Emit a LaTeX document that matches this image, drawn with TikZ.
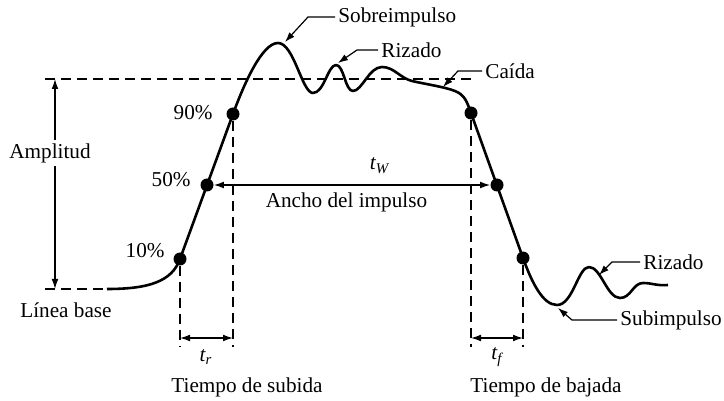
\documentclass[tikz,border=0pt]{standalone}
\usepackage{fontspec}
\setmainfont{Liberation Serif}
\usetikzlibrary{arrows.meta}
\usetikzlibrary{positioning}
\tikzset{
  pulse-line/.style={line width=1.3pt, line join=round},
  guide-line/.style={dash pattern=on 5pt off 3pt, line width=0.6pt},
  dim-path/.style={line width=0.6pt, <->},
  leader-path/.style={line width=0.6pt, ->},
  level-dot/.style={circle, fill, inner sep=0pt, minimum size=6.5pt},
  pulse-text/.style={font=\fontsize{10.6}{12}\selectfont, inner sep=1.5pt},
}
\newcommand{\tsub}[2]{{\itshape #1}\textsubscript{\itshape #2}}

\begin{document}
\begin{tikzpicture}[x=0.5pt, y=-0.5pt, >={Latex[length=5pt,width=3.4pt]}]
\useasboundingbox (0,0) rectangle (724,401);
% base line and top level
\coordinate (base-left) at (45,289);
\coordinate (base-right) at (107,289);
\coordinate (top-left) at (45,79);
\coordinate (top-right) at (472,79);
\draw[guide-line] (base-left) -- (base-right);
\draw[guide-line] (top-left) -- (top-right);
% the pulse
\draw[pulse-line] (base-right) .. controls (150,289) and (172,281) .. (180,259)
  -- (233,114) .. controls (244,84) and (262,43) .. (278,43)
  .. controls (294,43) and (302,93) .. (313,93)
  .. controls (324,93) and (328,65) .. (336,65)
  .. controls (344,65) and (345,91) .. (353,91)
  .. controls (362,91) and (369,67) .. (382,67)
  .. controls (394,67) and (400,78) .. (412,81)
  .. controls (425,84) and (445,87) .. (455,91)
  .. controls (465,95) and (467,102) .. (471,113)
  -- (523,258)
  .. controls (532,283) and (543,305) .. (557,305)
  .. controls (573,305) and (578,267) .. (589,267)
  .. controls (601,267) and (607,298) .. (620,298)
  .. controls (631,298) and (633,283) .. (643,283)
  .. controls (652,283) and (657,286) .. (668,285);
% level points
\node[level-dot] at (180,259) (rise10) {};
\node[level-dot] at (207,185) (rise50) {};
\node[level-dot] at (233,114) (rise90) {};
\node[level-dot] at (471,113) (fall90) {};
\node[level-dot] at (497,185) (fall50) {};
\node[level-dot] at (523,258) (fall10) {};
\node[pulse-text, anchor=east] at (216,113) (lbl90) {90\%};
\node[pulse-text, anchor=east] at (194,180) (lbl50) {50\%};
\node[pulse-text, anchor=east] at (168,251) (lbl10) {10\%};
% amplitude
\node[pulse-text] at (50,153) (amplitud) {Amplitud};
\coordinate (amp-top) at (55,79);
\coordinate (amp-bottom) at (55,289);
\draw[leader-path] (amp-top |- amplitud.north) -- (amp-top);
\draw[leader-path] (amp-bottom |- amplitud.south) -- (amp-bottom);
\node[pulse-text] at (66,310) (base) {Línea base};
% pulse width
\draw[dim-path] (rise50) -- (fall50)
  node[pulse-text, pos=0.6, above=4pt] (tw) {\tsub{t}{W}}
  node[pulse-text, pos=0.48, below=2pt] (ancho) {Ancho del impulso};
% rise and fall times
\coordinate (rise10-foot) at (180,347);
\coordinate (rise90-foot) at (233,347);
\coordinate (fall90-foot) at (471,347);
\coordinate (fall10-foot) at (523,347);
\draw[guide-line] (rise10) -- (rise10-foot);
\draw[guide-line] (rise90) -- (rise90-foot);
\draw[guide-line] (fall90) -- (fall90-foot);
\draw[guide-line] (fall10) -- (fall10-foot);
\coordinate (tr-left) at (180,338);
\coordinate (tr-right) at (233,338);
\coordinate (tf-left) at (471,338);
\coordinate (tf-right) at (523,338);
\draw[dim-path] (tr-left) -- (tr-right);
\draw[dim-path] (tf-left) -- (tf-right);
\node[pulse-text] at (206,357) (tr) {\tsub{t}{r}};
\node[pulse-text] at (497,357) (tf) {\tsub{t}{f}};
\node[pulse-text] at (247,387) (subida) {Tiempo de subida};
\node[pulse-text] at (546,387) (bajada) {Tiempo de bajada};
% callouts
\node[pulse-text, anchor=west] at (335,17) (sobre) {Sobreimpulso};
\node[pulse-text, anchor=west] at (378,50) (rizado) {Rizado};
\node[pulse-text, anchor=west] at (482,71) (caida) {Caída};
\node[pulse-text, anchor=west] at (640,262) (rizado-low) {Rizado};
\node[pulse-text, anchor=west] at (617,320) (sub) {Subimpulso};
\coordinate (sobre-tip) at (285,42);
\coordinate (rizado-tip) at (338,63);
\coordinate (caida-tip) at (443,87);
\coordinate (rizado-low-tip) at (599,275);
\coordinate (sub-tip) at (558,308);
\draw[leader-path] (sobre.west) -- ++(-27,0) -- (sobre-tip);
\draw[leader-path] (rizado.west) -- ++(-21,0) -- (rizado-tip);
\draw[leader-path] (caida.west) -- ++(-24,0) -- (caida-tip);
\draw[leader-path] (rizado-low.west) -- ++(-28,0) -- (rizado-low-tip);
\draw[leader-path] (sub.west) -- ++(-45,0) -- (sub-tip);
\end{tikzpicture}
\end{document}
